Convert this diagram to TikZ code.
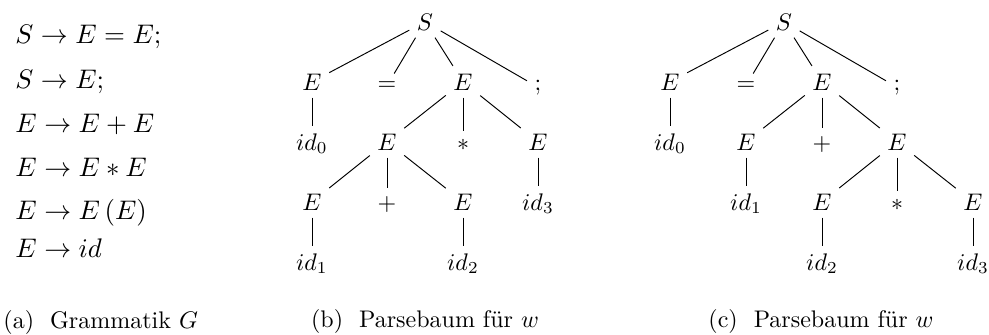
\documentclass[tikz,border=0pt]{standalone}
\usepackage{fontspec}
\newcommand{\gsz}[1]{\scalebox{1.12}{#1}}
\begin{document}
\begin{tikzpicture}[x=0.4167pt, y=-0.4167pt,
  tn/.style={anchor=base, inner sep=3pt},
  gl/.style={anchor=base west, inner sep=0pt},
  captext/.style={anchor=base, inner sep=0pt},
  conn/.style={draw=black, line width=0.4pt}]
\useasboundingbox (0,0) rectangle (989,334);

% grammar
\node[gl] (g1) at (15,43)  {\gsz{$S \rightarrow E = E;$}};
\node[gl] (g2) at (15,88)  {\gsz{$S \rightarrow E;$}};
\node[gl] (g3) at (15,132) {\gsz{$E \rightarrow E + E$}};
\node[gl] (g4) at (15,176) {\gsz{$E \rightarrow E * E$}};
\node[gl] (g5) at (15,219) {\gsz{$E \rightarrow E\,(E)$}};
\node[gl] (g6) at (15,257) {\gsz{$E \rightarrow id$}};
\node[gl] (capa) at (3,328) {(a)~ Grammatik $G$};

% tree b
\node[tn] (bS)    at (425,30)  {$S$};
\node[tn] (bE1)   at (312,90)  {$E$};
\node[tn] (beq)   at (387,90)  {$=$};
\node[tn] (bE2)   at (463,90)  {$E$};
\node[tn] (bsemi) at (538,90)  {$;$};
\node[tn] (bid0)  at (312,150) {$id_0$};
\node[tn] (bE3)   at (387,150) {$E$};
\node[tn] (bstar) at (463,150) {$*$};
\node[tn] (bE4)   at (538,150) {$E$};
\node[tn] (bE5)   at (312,210) {$E$};
\node[tn] (bplus) at (387,210) {$+$};
\node[tn] (bE6)   at (463,210) {$E$};
\node[tn] (bid3)  at (538,210) {$id_3$};
\node[tn] (bid1)  at (312,270) {$id_1$};
\node[tn] (bid2)  at (463,270) {$id_2$};
\node[captext] (capb) at (425,327) {(b)~ Parsebaum für $w$};

\foreach \a/\b in {bS/bE1,bS/beq,bS/bE2,bS/bsemi,bE1/bid0,bE2/bE3,bE2/bstar,bE2/bE4,
  bE4/bid3,bE3/bE5,bE3/bplus,bE3/bE6,bE5/bid1,bE6/bid2}
  \draw[conn] (\a) -- (\b);

% tree c
\node[tn] (cS)    at (784,30)  {$S$};
\node[tn] (cE1)   at (670,90)  {$E$};
\node[tn] (ceq)   at (746,90)  {$=$};
\node[tn] (cE2)   at (822,90)  {$E$};
\node[tn] (csemi) at (897,90)  {$;$};
\node[tn] (cid0)  at (670,150) {$id_0$};
\node[tn] (cE3)   at (746,150) {$E$};
\node[tn] (cplus) at (822,150) {$+$};
\node[tn] (cE4)   at (897,150) {$E$};
\node[tn] (cid1)  at (746,210) {$id_1$};
\node[tn] (cE5)   at (822,210) {$E$};
\node[tn] (cstar) at (897,210) {$*$};
\node[tn] (cE6)   at (973,210) {$E$};
\node[tn] (cid2)  at (822,270) {$id_2$};
\node[tn] (cid3)  at (973,270) {$id_3$};
\node[captext] (capc) at (821,327) {(c)~ Parsebaum für $w$};

\foreach \a/\b in {cS/cE1,cS/ceq,cS/cE2,cS/csemi,cE1/cid0,cE2/cE3,cE2/cplus,cE2/cE4,
  cE3/cid1,cE4/cE5,cE4/cstar,cE4/cE6,cE5/cid2,cE6/cid3}
  \draw[conn] (\a) -- (\b);
\end{tikzpicture}
\end{document}
